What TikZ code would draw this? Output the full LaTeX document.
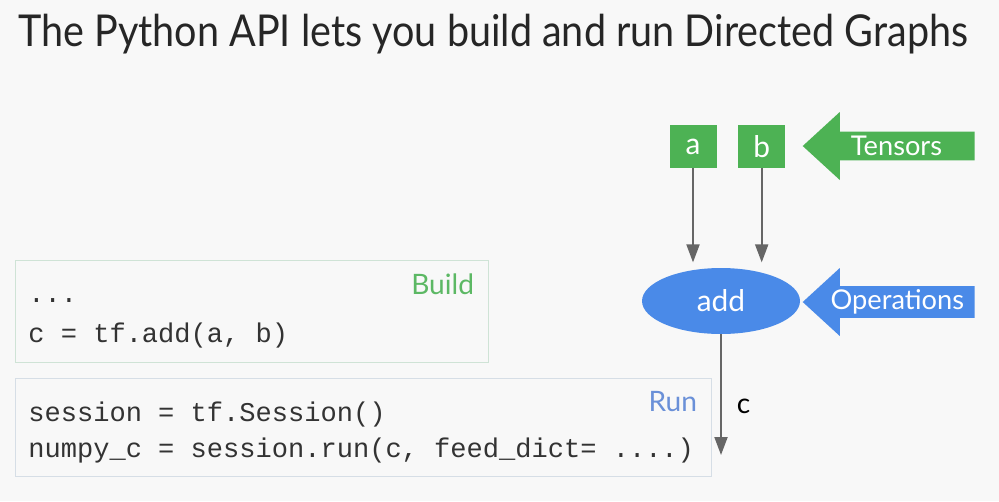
\documentclass[tikz,border=0pt]{standalone}
\usepackage{fontspec}
\setmainfont{Lato}
\setmonofont{Liberation Mono}
\newfontfamily\titlefont[FakeStretch=0.9]{Lato}
\usetikzlibrary{arrows.meta,positioning,shapes.geometric,shapes.arrows}

\definecolor{bggray}{HTML}{F8F8F8}
\definecolor{tfgreen}{HTML}{4DB254}
\definecolor{tfblue}{HTML}{4A8AE8}
\definecolor{arrgray}{HTML}{666666}
\definecolor{buildline}{HTML}{CFE3D6}
\definecolor{runline}{HTML}{D6DEE6}
\definecolor{buildtext}{HTML}{5CB864}
\definecolor{runtext}{HTML}{6A90D8}

\begin{document}
\begin{tikzpicture}[
    x=0.02cm, y=-0.02cm,
    node distance=5mm and 4.2mm,
    tensor/.style={fill=tfgreen, text=white, minimum width=0.94cm, minimum height=0.86cm, inner sep=0, font=\fontsize{17}{17}\selectfont},
    op/.style={ellipse, fill=tfblue, text=white, minimum width=3.16cm, minimum height=1.32cm, inner sep=0, font=\fontsize{17}{17}\selectfont},
    marker/.style={single arrow, shape border rotate=180, single arrow head extend=0.33cm, single arrow tip angle=85, minimum height=3.44cm, minimum width=1.36cm, inner sep=1pt, text=white, anchor=tail, font=\fontsize{15.5}{15.5}\selectfont},
    codebox/.style={thick, anchor=north west, inner sep=0},
    code/.style={anchor=base west, inner sep=0, font=\ttfamily\fontsize{15.4}{15.4}\selectfont, text=black!80},
    tag/.style={inner sep=0, font=\fontsize{16}{16}\selectfont},
    arr/.style={-{Triangle[length=3.6mm, width=2.6mm]}, line width=1.1pt, draw=arrgray}
  ]
    \path[use as bounding box, fill=bggray] (0,0) rectangle (999,501);

    \node[anchor=base west, inner sep=0, font=\titlefont\fontsize{25}{25}\selectfont, text=black!85] (title) at (18,46) {The Python API lets you build and run Directed Graphs};

    % graph
    \node[tensor] (a) at (693,146.5) {a};
    \node[tensor, right=0.42cm of a] (b) {b};
    \node[op] (add) at (721,301) {add};
    \coordinate (cend) at (721,455);

    \draw[arr, shorten >=3pt] (a) -- (a |- add.north);
    \draw[arr, shorten >=3pt] (b) -- (b |- add.north);
    \draw[arr] (add) -- node[pos=0.6, right=3mm, tag, text=black] (clabel) {c} (cend);

    \node[marker, fill=tfgreen] (tensors) at (975,146) {Tensors};
    \node[marker, fill=tfblue] (ops) at (975,302) {Operations};

    % code
    \node[codebox, draw=buildline, minimum width=9.46cm, minimum height=2.04cm] (build) at (15,260) {};
    \node[tag, text=buildtext, anchor=north east] (buildlabel) at ([xshift=-0.3cm, yshift=-0.26cm]build.north east) {Build};
    \node[code] (dots) at (28,302) {...};
    \node[code] (addline) at (28,342) {c = tf.add(a, b)};

    \node[codebox, draw=runline, minimum width=13.92cm, minimum height=1.96cm] (run) at (15,378) {};
    \node[tag, text=runtext, anchor=north east] (runlabel) at ([xshift=-0.3cm, yshift=-0.26cm]run.north east) {Run};
    \node[code] (sessline) at (28,421) {session = tf.Session()};
    \node[code] (runline) at (28,457) {numpy\_c = session.run(c, feed\_dict= ....)};
  \end{tikzpicture}
\end{document}
